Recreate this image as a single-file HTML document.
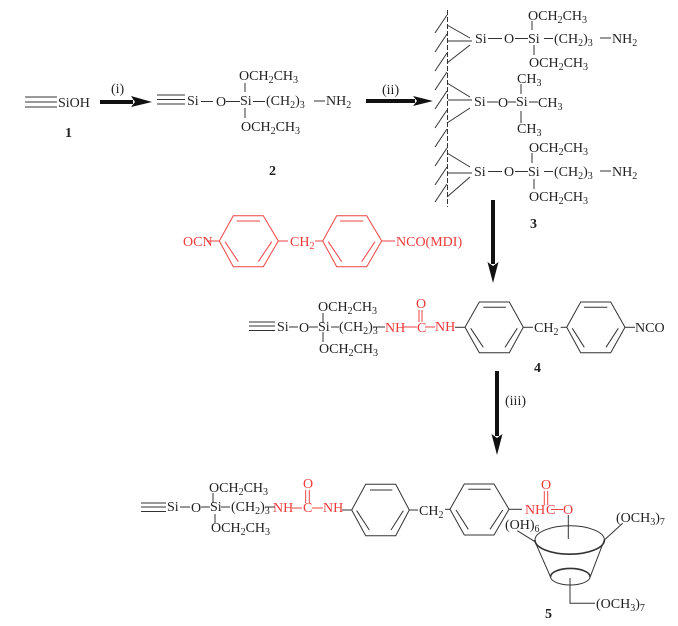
<!DOCTYPE html>
<html>
<head>
<meta charset="utf-8">
<style>
html,body{margin:0;padding:0;background:#fff;}
svg{display:block;filter:blur(0.3px);}
text{font-family:"Liberation Serif",serif;font-size:14px;fill:#222;}
.s{font-size:10px;}
.b{font-weight:bold;}
.r text,text.r{fill:#ee3a3a;}
.l line,.l polyline,.l polygon,.l ellipse,.l path{stroke:#333;stroke-width:1;fill:none;}
.rl line,.rl polygon{stroke:#ee4444;stroke-width:1;fill:none;}
</style>
</head>
<body>
<svg width="678" height="626" viewBox="0 0 678 626" xmlns="http://www.w3.org/2000/svg">
<rect width="678" height="626" fill="#fff"/>

<!-- arrows -->
<g fill="#111">
<rect x="100" y="100" width="33" height="4"/><polygon points="131,96 152,102 131,107 135,102"/>
<rect x="366" y="99" width="49" height="4"/><polygon points="413,96 433,101 413,106 417,101"/>
<rect x="491" y="200" width="4" height="64"/><polygon points="487.5,262 493,283 498.5,262 493,266"/>
<rect x="495" y="371" width="4" height="65"/><polygon points="491.5,434 497,455 502.5,434 497,438"/>
</g>

<!-- black lines -->
<g class="l">
<!-- 1 -->
<line x1="25" y1="97" x2="57" y2="97"/><line x1="25" y1="102" x2="57" y2="102"/><line x1="25" y1="107" x2="57" y2="107"/>
<!-- 2 -->
<line x1="157" y1="95" x2="185" y2="95"/><line x1="157" y1="99.500" x2="185" y2="99.500"/><line x1="157" y1="104" x2="185" y2="104"/>
<line x1="201" y1="101.500" x2="213" y2="101.500"/><line x1="226" y1="101.500" x2="240" y2="101.500"/><line x1="253" y1="101.500" x2="265" y2="101.500"/><line x1="314" y1="101" x2="325" y2="101"/>
<line x1="245" y1="83" x2="245" y2="92"/><line x1="245" y1="108" x2="245" y2="118"/>
<!-- wall -->
<line x1="447.500" y1="10" x2="447.500" y2="207" stroke-dasharray="5 2"/>
<line x1="435" y1="33" x2="447" y2="15"/><line x1="435" y1="52" x2="447" y2="34"/><line x1="435" y1="71" x2="447" y2="53"/><line x1="435" y1="90" x2="447" y2="72"/><line x1="435" y1="109" x2="447" y2="91"/><line x1="435" y1="128" x2="447" y2="110"/><line x1="435" y1="147" x2="447" y2="129"/><line x1="435" y1="166" x2="447" y2="148"/><line x1="435" y1="185" x2="447" y2="167"/><line x1="435" y1="202" x2="447" y2="184"/>
<!-- 3 group 1 -->
<line x1="447" y1="25" x2="470" y2="38"/><line x1="448" y1="41" x2="472" y2="41"/><line x1="447" y1="63" x2="470" y2="45"/>
<line x1="488" y1="38.500" x2="502" y2="38.500"/><line x1="515" y1="38.500" x2="528" y2="38.500"/><line x1="544" y1="38.500" x2="553" y2="38.500"/><line x1="600" y1="38" x2="611" y2="38"/>
<line x1="532" y1="21" x2="532" y2="30"/><line x1="534" y1="45" x2="534" y2="55"/>
<!-- 3 group 2 -->
<line x1="447" y1="83" x2="470" y2="97"/><line x1="448" y1="100" x2="472" y2="100"/><line x1="447" y1="123" x2="470" y2="108"/>
<line x1="487" y1="102" x2="498" y2="102"/><line x1="508" y1="102" x2="516" y2="102"/><line x1="529" y1="102" x2="538" y2="102"/>
<line x1="521" y1="84" x2="521" y2="94"/><line x1="521" y1="111" x2="521" y2="123"/>
<!-- 3 group 3 -->
<line x1="447" y1="153" x2="470" y2="167"/><line x1="448" y1="173" x2="472" y2="173"/><line x1="447" y1="197" x2="470" y2="177"/>
<line x1="488" y1="171.500" x2="502" y2="171.500"/><line x1="515" y1="171.500" x2="528" y2="171.500"/><line x1="544" y1="171.500" x2="553" y2="171.500"/><line x1="600" y1="171" x2="611" y2="171"/>
<line x1="532" y1="153" x2="532" y2="163"/><line x1="534" y1="179" x2="534" y2="189"/>
<!-- 4 -->
<line x1="249" y1="322" x2="275" y2="322"/><line x1="249" y1="326" x2="275" y2="326"/><line x1="249" y1="330.500" x2="275" y2="330.500"/>
<line x1="289" y1="327" x2="298" y2="327"/><line x1="309" y1="327" x2="318" y2="327"/><line x1="331" y1="327" x2="339" y2="327"/><line x1="373" y1="327" x2="385" y2="327"/><line x1="323" y1="313" x2="323" y2="323"/><line x1="323" y1="332" x2="323" y2="342"/>
<line x1="455" y1="327.300" x2="465" y2="327.300"/>
<polygon points="465,327.300 479.300,302 509.300,302 523.300,327.300 509.300,352.700 479.300,352.700"/>
<line x1="483.300" y1="307.300" x2="506" y2="307.300"/><line x1="470.700" y1="328.300" x2="483.300" y2="347.300"/><line x1="517.300" y1="328.300" x2="505" y2="347.300"/>
<line x1="523" y1="327.300" x2="533" y2="327.300"/><line x1="560.700" y1="327.300" x2="566.700" y2="327.300"/>
<polygon points="566.700,327.300 580.700,302 610.700,302 625,327.300 610.700,352.700 580.700,352.700"/>
<line x1="584" y1="307.300" x2="607.300" y2="307.300"/><line x1="572.300" y1="328.300" x2="584.300" y2="347.300"/><line x1="618.300" y1="328.300" x2="606" y2="347.300"/>
<line x1="625" y1="327.300" x2="635" y2="327.300"/>
<!-- 5 -->
<line x1="141" y1="503" x2="166" y2="503"/><line x1="141" y1="507" x2="166" y2="507"/><line x1="141" y1="511.500" x2="166" y2="511.500"/>
<line x1="180" y1="507" x2="190" y2="507"/><line x1="201" y1="507" x2="210" y2="507"/><line x1="221" y1="507" x2="230" y2="507"/><line x1="265" y1="507" x2="275" y2="507"/><line x1="213" y1="493" x2="213" y2="503"/><line x1="215" y1="514" x2="215" y2="523"/>
<line x1="342" y1="510" x2="352" y2="510"/>
<polygon points="351.700,510 365.700,484.300 395.700,484.300 409.300,510 395.700,535.700 365.700,535.700"/>
<line x1="370" y1="490" x2="392.300" y2="490"/><line x1="356.700" y1="510.700" x2="369.300" y2="530"/><line x1="403.300" y1="510.700" x2="391" y2="530"/>
<line x1="409" y1="510" x2="418" y2="510"/><line x1="445" y1="509.300" x2="450" y2="509.300"/>
<polygon points="450,509.300 464.300,484 494,484 509,509.300 494,535 464.300,535"/>
<line x1="468.300" y1="489.300" x2="490.700" y2="489.300"/><line x1="456" y1="510" x2="468.300" y2="529.300"/><line x1="502.700" y1="510" x2="490" y2="529.300"/>
<line x1="509" y1="509.300" x2="522" y2="509.300"/>
<!-- cyclodextrin -->
<line x1="568.300" y1="515" x2="568.300" y2="539"/>
<path d="M535,540 A34.700,14.200 0 0 1 604.400,540"/>
<path d="M535,540 A34.700,14.200 0 0 0 604.400,540" style="stroke-width:1.600"/>
<path d="M550.600,576.700 A19.700,8.300 0 0 1 590,576.700" style="stroke-width:1.600"/>
<path d="M550.600,576.700 A19.700,8.300 0 0 0 590,576.700"/>
<line x1="535" y1="541.700" x2="550.700" y2="577.300"/><line x1="604.300" y1="540" x2="590" y2="577.300"/>
<line x1="517.300" y1="530.700" x2="535" y2="541.700"/><line x1="604.300" y1="540" x2="622.700" y2="523.300"/>
<polyline points="570,578 570,603.300 595,603.300"/>
</g>

<!-- red lines -->
<g class="rl">
<line x1="207" y1="241" x2="219.300" y2="241"/>
<polygon points="219.300,241 233.300,215.700 263.300,215.700 278.300,241 263.300,266.700 233.300,266.700"/>
<line x1="236.700" y1="221" x2="260" y2="221"/><line x1="225" y1="241.700" x2="238.300" y2="261.700"/><line x1="271.700" y1="241.700" x2="258.300" y2="261.700"/>
<line x1="278" y1="241" x2="288" y2="241"/><line x1="315" y1="241" x2="322.700" y2="241"/>
<polygon points="322.700,241 336.700,215.700 366.700,215.700 381.700,241 366.700,266.700 336.700,266.700"/>
<line x1="340" y1="221" x2="363.300" y2="221"/><line x1="328.300" y1="241.700" x2="341.700" y2="261.700"/><line x1="375" y1="241.700" x2="361.700" y2="261.700"/>
<line x1="381.700" y1="241" x2="395" y2="241"/>
<line x1="403" y1="327" x2="417" y2="327"/><line x1="425" y1="327" x2="435" y2="327"/>
<line x1="419" y1="310" x2="419" y2="322"/><line x1="422" y1="310" x2="422" y2="322"/>
<line x1="292" y1="508" x2="302" y2="508"/><line x1="312" y1="508" x2="323" y2="508"/>
<line x1="305.700" y1="490" x2="305.700" y2="503"/><line x1="309.300" y1="490" x2="309.300" y2="503"/>
<line x1="551" y1="509.500" x2="563" y2="509.500"/>
<line x1="544.300" y1="491" x2="544.300" y2="505"/><line x1="547.700" y1="491" x2="547.700" y2="505"/>
</g>

<!-- compound 1 -->
<text x="58" y="107">SiOH</text>
<text x="65" y="137" class="b">1</text>
<text x="111" y="93">(i)</text>

<!-- compound 2 -->
<text x="187" y="105">Si</text><text x="216" y="106">O</text><text x="240" y="105">Si</text>
<text x="266" y="105">(CH<tspan class="s" dy="3">2</tspan><tspan dy="-3">)</tspan><tspan class="s" dy="3">3</tspan></text>
<text x="326" y="105">NH<tspan class="s" dy="3">2</tspan></text>
<text x="239" y="80">OCH<tspan class="s" dy="3">2</tspan><tspan dy="-3">CH</tspan><tspan class="s" dy="3">3</tspan></text>
<text x="241" y="131">OCH<tspan class="s" dy="3">2</tspan><tspan dy="-3">CH</tspan><tspan class="s" dy="3">3</tspan></text>
<text x="269" y="175" class="b">2</text>

<!-- compound 3 -->
<text x="382" y="94">(ii)</text>
<text x="475" y="43">Si</text><text x="504" y="43">O</text><text x="528" y="43">Si</text>
<text x="554" y="43">(CH<tspan class="s" dy="3">2</tspan><tspan dy="-3">)</tspan><tspan class="s" dy="3">3</tspan></text>
<text x="612" y="43">NH<tspan class="s" dy="3">2</tspan></text>
<text x="528" y="20">OCH<tspan class="s" dy="3">2</tspan><tspan dy="-3">CH</tspan><tspan class="s" dy="3">3</tspan></text>
<text x="529" y="67">OCH<tspan class="s" dy="3">2</tspan><tspan dy="-3">CH</tspan><tspan class="s" dy="3">3</tspan></text>

<text x="474" y="106">Si</text><text x="498" y="107">O</text><text x="516" y="106">Si</text>
<text x="538" y="107">CH<tspan class="s" dy="3">3</tspan></text>
<text x="517" y="83">CH<tspan class="s" dy="3">3</tspan></text>
<text x="517" y="133">CH<tspan class="s" dy="3">3</tspan></text>

<text x="474" y="176">Si</text><text x="504" y="176">O</text><text x="528" y="176">Si</text>
<text x="554" y="176">(CH<tspan class="s" dy="3">2</tspan><tspan dy="-3">)</tspan><tspan class="s" dy="3">3</tspan></text>
<text x="612" y="176">NH<tspan class="s" dy="3">2</tspan></text>
<text x="529" y="152">OCH<tspan class="s" dy="3">2</tspan><tspan dy="-3">CH</tspan><tspan class="s" dy="3">3</tspan></text>
<text x="529" y="201">OCH<tspan class="s" dy="3">2</tspan><tspan dy="-3">CH</tspan><tspan class="s" dy="3">3</tspan></text>
<text x="530" y="228" class="b">3</text>

<!-- MDI -->
<g class="r">
<text x="183" y="246">OCN</text>
<text x="290" y="246">CH<tspan class="s" dy="3">2</tspan></text>
<text x="396" y="246">NCO(MDI)</text>
</g>

<!-- compound 4 -->
<text x="277" y="331">Si</text><text x="299" y="332">O</text><text x="318" y="331">Si</text>
<text x="339" y="331">(CH<tspan class="s" dy="3">2</tspan><tspan dy="-3">)</tspan><tspan class="s" dy="3">3</tspan></text>
<text x="318" y="311">OCH<tspan class="s" dy="3">2</tspan><tspan dy="-3">CH</tspan><tspan class="s" dy="3">3</tspan></text>
<text x="319" y="353">OCH<tspan class="s" dy="3">2</tspan><tspan dy="-3">CH</tspan><tspan class="s" dy="3">3</tspan></text>
<g class="r">
<text x="385" y="332">NH</text><text x="417" y="332">C</text><text x="435" y="331">NH</text><text x="416" y="308">O</text>
</g>
<text x="534" y="332">CH<tspan class="s" dy="3">2</tspan></text>
<text x="635" y="332">NCO</text>
<text x="534" y="372" class="b">4</text>
<text x="505" y="405">(iii)</text>

<!-- compound 5 -->
<text x="167" y="511">Si</text><text x="191" y="512">O</text><text x="210" y="511">Si</text>
<text x="231" y="511">(CH<tspan class="s" dy="3">2</tspan><tspan dy="-3">)</tspan><tspan class="s" dy="3">3</tspan></text>
<text x="209" y="492">OCH<tspan class="s" dy="3">2</tspan><tspan dy="-3">CH</tspan><tspan class="s" dy="3">3</tspan></text>
<text x="211" y="532">OCH<tspan class="s" dy="3">2</tspan><tspan dy="-3">CH</tspan><tspan class="s" dy="3">3</tspan></text>
<g class="r">
<text x="273" y="512">NH</text><text x="303" y="512">C</text><text x="323" y="512">NH</text><text x="303" y="488">O</text>
<text x="525" y="514">NH</text><text x="546" y="514">C</text><text x="563" y="514">O</text><text x="541" y="489">O</text>
</g>
<text x="419" y="515">CH<tspan class="s" dy="3">2</tspan></text>
<text x="505" y="529">(OH)<tspan class="s" dy="3">6</tspan></text>
<text x="616" y="522">(OCH<tspan class="s" dy="3">3</tspan><tspan dy="-3">)</tspan><tspan class="s" dy="3">7</tspan></text>
<text x="596" y="608">(OCH<tspan class="s" dy="3">3</tspan><tspan dy="-3">)</tspan><tspan class="s" dy="3">7</tspan></text>
<text x="545" y="618" class="b">5</text>
</svg>
</body>
</html>
